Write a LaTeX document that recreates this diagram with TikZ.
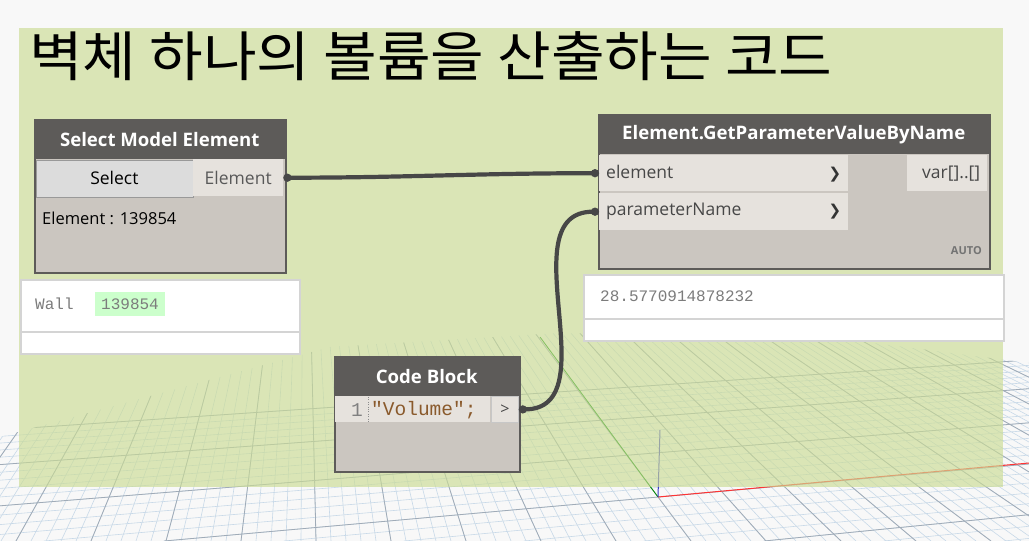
\documentclass[tikz,border=0pt]{standalone}
\usepackage{fontspec}
\setmainfont{Open Sans}
\setmonofont{Liberation Mono}
\newfontfamily\krfont{Noto Sans CJK KR}
\newfontfamily\symfont{DejaVu Sans}
\usepackage{tikz}
\usetikzlibrary{arrows.meta,positioning,calc}
\definecolor{bgpaper}{HTML}{F8F8F8}
\definecolor{grpgreen}{RGB}{203,220,148}
\definecolor{hdrgray}{HTML}{5D5B59}
\definecolor{bodygray}{HTML}{CBC6C0}
\definecolor{portfill}{HTML}{E6E2DD}
\definecolor{btnfill}{HTML}{DCDCDC}
\definecolor{wiregray}{HTML}{474747}
\definecolor{pvline}{HTML}{D4D4D4}
\definecolor{pvtext}{HTML}{7C7C7C}
\definecolor{hlgreen}{HTML}{CCFFCC}
\definecolor{codebrown}{HTML}{8A5A2C}
\definecolor{gridminor}{HTML}{C8D9E8}
\definecolor{gridmajor}{HTML}{A0ABB7}
\newcommand{\hdrfont}{\bfseries\fontsize{18.6}{21}\selectfont}
\newcommand{\portfont}{\fontsize{17.5}{20}\selectfont}
\newcommand{\pvfont}{\ttfamily\fontsize{16}{18}\selectfont}
\newcommand{\chev}{{\symfont\fontsize{15}{15}\selectfont\color{black!80}\char"276F}}

\begin{document}
\begin{tikzpicture}[x=1pt,y=-1pt,>=Stealth,
  dnode/.style={draw=hdrgray,line width=1.5pt,fill=bodygray,anchor=north west,inner sep=0},
  dhead/.style={fill=hdrgray,text=white,font=\hdrfont,anchor=north west,inner sep=0},
  dport/.style={fill=portfill,anchor=north west,inner sep=0,font=\portfont,text=black!72},
  pview/.style={draw=pvline,line width=1.5pt,fill=white,anchor=north west,inner sep=0},
  wire/.style={draw=wiregray,line width=4.2pt,
    {Circle[length=8pt,width=8pt]}-{Circle[length=8pt,width=8pt]}}]
\useasboundingbox (0,0) rectangle (1029,541);
\fill[bgpaper] (0,0) rectangle (1029,541);
\begin{scope}
\clip (0,437) -- (330,347) -- (560,333) -- (850,340) -- (1029,363) -- (1029,541) -- (0,541) -- cycle;
\foreach \i in {-52,...,49} \draw[gridminor,line width=0.6pt] (304,25) -- (691+15*\i,541);
\foreach \j in {-15,...,8} \draw[gridminor,line width=0.6pt] (5960,25) -- (164+120*\j,541);
\foreach \i in {-50,-45,...,45} \draw[gridmajor,line width=0.8pt] (304,25) -- (691+15*\i,541);
\foreach \j in {-15,-10,...,5} \draw[gridmajor,line width=0.8pt] (5960,25) -- (164+120*\j,541);
\end{scope}
\coordinate (orig) at (658,497);
\draw[red!80,line width=1pt] (orig) -- (1029,463);
\draw[green!55!black,line width=0.8pt] (orig) -- (540,337);
\draw[blue!55!gray,line width=1pt] (orig) -- (660,430);
\fill[grpgreen,opacity=0.65] (19,28) rectangle (1003,487);
\node[anchor=west,inner sep=0,font=\krfont\fontsize{54}{60}\selectfont] (title) at (29,56) {\scalebox{1.08}[1]{벽체 하나의 볼륨을 산출하는 코드}};

\node[dnode,minimum width=251,minimum height=153] (sme) at (34,119) {};
\node[dhead,minimum width=251,minimum height=40] (smehead) at (34,119) {Select Model Element};
\node[dport,fill=btnfill,draw=black!40,line width=0.8pt,minimum width=157,minimum height=37,text=black] (smebtn) at (35.5,159.5) {Select};
\node[dport,minimum width=90,minimum height=37,text=black!65] (smeout) at (193,159) {Element};
\node[anchor=west,inner sep=0,font=\fontsize{16.5}{18}\selectfont] (smeval) at (42,218) {Element : 139854};
\node[pview,minimum width=279,minimum height=52] (smepv) at (20,279) {};
\node[pview,minimum width=279,minimum height=22] (smepvb) at (20,331) {};
\node[anchor=west,inner sep=0,font=\pvfont,text=pvtext] (smepvk) at (35,304) {Wall};
\node[anchor=west,fill=hlgreen,inner xsep=6,minimum height=24,font=\pvfont,text=pvtext] (smepvv) at (95,304) {139854};

\node[dnode,minimum width=391,minimum height=154] (gpv) at (598,114) {};
\node[dhead,minimum width=391,minimum height=40] (gpvhead) at (598,114) {Element.GetParameterValueByName};
\node[dport,minimum height=36,text width=235,inner xsep=7,align=left] (inel) at (599,155) {element\hfill\chev};
\node[dport,minimum height=37,text width=235,inner xsep=7,align=left] (inpn) at (599,193) {parameterName\hfill\chev};
\node[dport,minimum width=80,minimum height=36,text width=66,align=right] (gpvout) at (907,155) {var[]..[]};
\node[anchor=east,inner sep=0,font=\bfseries\fontsize{11}{12}\selectfont,text=black!55] (gpvlace) at (982,251) {AUTO};
\node[pview,minimum width=420,minimum height=44] (gpvpv) at (583,274) {};
\node[pview,minimum width=420,minimum height=22] (gpvpvb) at (583,318) {};
\node[anchor=west,inner sep=0,font=\pvfont,text=pvtext] (gpvpvv) at (600,296) {28.5770914878232};

\node[dnode,minimum width=185,minimum height=115] (cb) at (334,356) {};
\node[dhead,minimum width=185,minimum height=40] (cbhead) at (334,356) {Code Block};
\node[dport,minimum width=155,minimum height=26] (cbline) at (335,396) {};
\node[dport,draw=black!22,line width=0.8pt,minimum width=27,minimum height=26,font=\fontsize{16}{18}\selectfont] (cbout) at (491,396) {>};
\node[anchor=east,inner sep=0,font=\ttfamily\fontsize{19.5}{20}\selectfont,text=black!50] (cbnum) at (363,410) {1};
\node[anchor=west,inner sep=0,font=\ttfamily\fontsize{19.5}{20}\selectfont,text=codebrown] (cbcode) at (371,410) {"Volume";};
\draw[black!45,dotted] ($(cbline.north west)+(33,1)$) -- ($(cbline.south west)+(33,-1)$);

\draw[wire] (smeout.east) to[out=0,in=180] (inel.west);
\draw[wire] (cbout.east) to[out=0,in=180,looseness=1.1] (inpn.west);
\end{tikzpicture}
\end{document}
